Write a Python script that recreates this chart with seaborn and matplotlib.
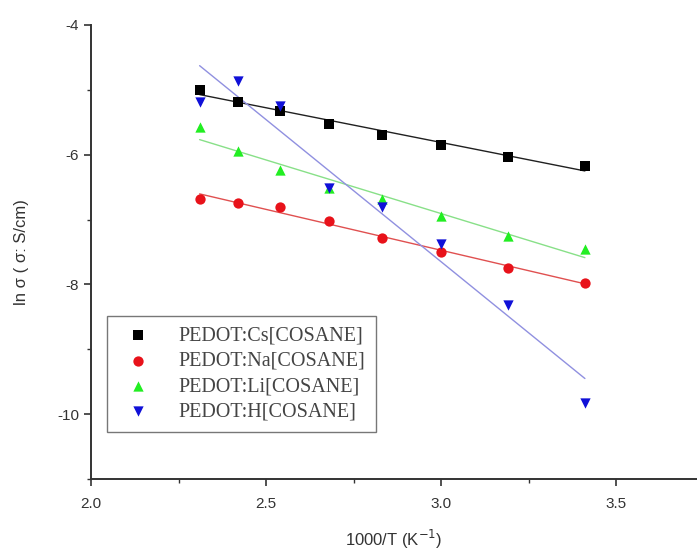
import numpy as np
import pandas as pd
import matplotlib
matplotlib.use("Agg")
import matplotlib.pyplot as plt
import seaborn as sns

x_vals = [2.31, 2.42, 2.54, 2.68, 2.83, 3.00, 3.19, 3.41]
cs_vals = [-5.00, -5.18, -5.32, -5.52, -5.69, -5.85, -6.03, -6.17]
na_vals = [-6.68, -6.75, -6.80, -7.02, -7.28, -7.50, -7.74, -7.98]
li_vals = [-5.57, -5.94, -6.23, -6.51, -6.69, -6.95, -7.25, -7.45]
h_vals = [-5.18, -4.86, -5.25, -6.51, -6.80, -7.37, -8.32, -9.83]
labels = ["PEDOT:Cs[COSANE]", "PEDOT:Na[COSANE]", "PEDOT:Li[COSANE]", "PEDOT:H[COSANE]"]

sns.set_style("ticks")
plt.rcParams['font.family'] = ['Liberation Sans', 'DejaVu Sans']
plt.rcParams['axes.unicode_minus'] = False

fig = plt.figure(figsize=(6.97, 5.54), dpi=100)
ax = fig.add_axes([0.1306, 0.1354, 0.8694, 0.8195])

series = [cs_vals, na_vals, li_vals, h_vals]
mcolors = ["#000000", "#e8121a", "#22ee22", "#1010d8"]
lcolors = ["#202020", "#e05050", "#88e088", "#9090e0"]
markers = ["s", "o", "^", "v"]
handles = []
for vals, lab, mc, lc, mk in zip(series, labels, mcolors, lcolors, markers):
    df = pd.DataFrame({"x": x_vals, "y": vals})
    sns.regplot(data=df, x="x", y="y", ax=ax, ci=None, truncate=True,
                scatter=False, line_kws=dict(color=lc, lw=1.0))
    h = ax.scatter(df["x"], df["y"], marker=mk, s=55, color=mc, zorder=3, label=lab, linewidths=0)
    handles.append(h)

ax.set_xlim(2.0, 3.73)
ax.set_ylim(-11, -4)
ax.set_xticks([2.0, 2.5, 3.0, 3.5])
ax.set_xticklabels(["2.0", "2.5", "3.0", "3.5"])
ax.set_yticks([-10, -8, -6, -4])
ax.set_xticks([2.25, 2.75, 3.25], minor=True)
ax.set_yticks([-11, -9, -7, -5], minor=True)
ax.tick_params(axis="both", which="major", length=5, width=1.2, labelsize=11, color="#333333", labelcolor="#333333")
ax.tick_params(axis="x", which="major", pad=8)
ax.tick_params(axis="both", which="minor", length=3, width=1.0, color="#333333")
sns.despine(ax=ax)
for s in ["left", "bottom"]:
    ax.spines[s].set_linewidth(1.4)
    ax.spines[s].set_color("#333333")

ax.set_xlabel("1000/T (K$^{-1}$)", fontsize=12, color="#333333", labelpad=12)
ax.set_ylabel("ln σ ( σ: S/cm)", fontsize=12, color="#333333", labelpad=20)

leg = ax.legend(handles=handles, labels=labels, loc="lower left", bbox_to_anchor=(0.026, 0.103),
                prop={"family": "Liberation Serif", "size": 14.5}, frameon=True, fancybox=False,
                edgecolor="#555555", handletextpad=1.0, borderpad=0.55, labelspacing=0.3,
                scatterpoints=1, borderaxespad=0)
leg.get_frame().set_linewidth(1.0)
for t in leg.get_texts():
    t.set_color("#444444")

fig.savefig("out.png", dpi=100)
